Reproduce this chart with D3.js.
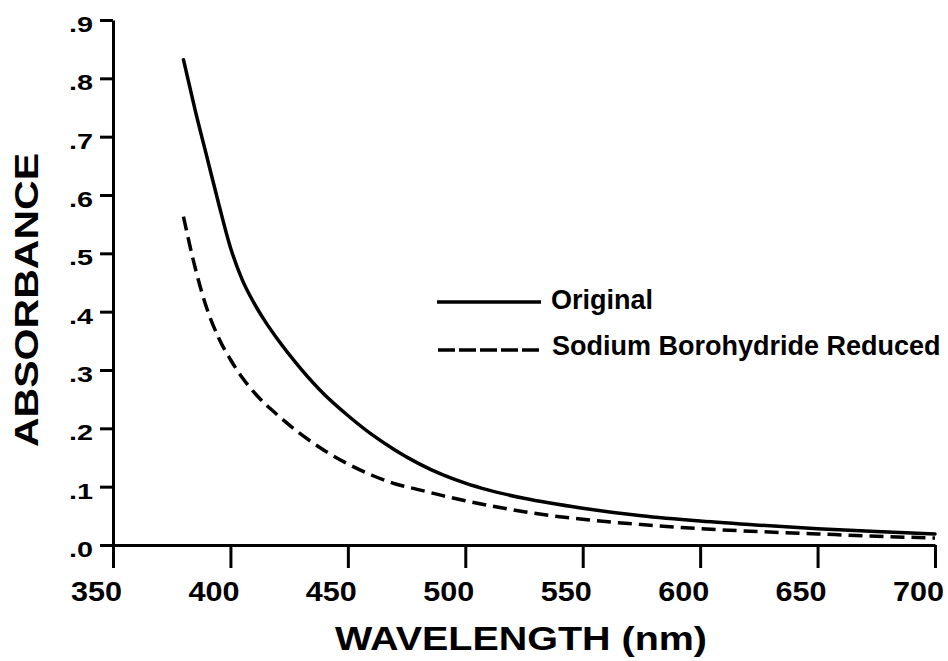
<!DOCTYPE html>
<html>
<head>
<meta charset="utf-8">
<script src="https://cdn.jsdelivr.net/npm/d3@7"></script>
<style>
  html, body { margin: 0; padding: 0; background: #fff; }
  svg { display: block; }
  text { font-family: "Liberation Sans", Arial, Helvetica, sans-serif; font-weight: bold; fill: #000; }
</style>
</head>
<body>
<svg id="chart" width="948" height="661"></svg>
<script>
// ---- data ----
const originalWavelength = [380, 385, 390, 395, 400, 405, 410, 415, 420, 430, 440, 450, 460, 470, 480, 490, 500, 510, 525, 550, 575, 600, 625, 650, 675, 700];
const originalAbsorbance = [0.832, 0.745, 0.665, 0.585, 0.51, 0.455, 0.415, 0.382, 0.353, 0.302, 0.258, 0.222, 0.19, 0.163, 0.14, 0.121, 0.106, 0.094, 0.08, 0.063, 0.05, 0.041, 0.034, 0.028, 0.023, 0.019];
const reducedWavelength = [380, 385, 390, 395, 400, 405, 410, 420, 430, 440, 450, 460, 470, 480, 490, 500, 525, 550, 575, 600, 625, 650, 675, 700];
const reducedAbsorbance = [0.563, 0.475, 0.405, 0.355, 0.318, 0.287, 0.262, 0.223, 0.19, 0.162, 0.139, 0.12, 0.105, 0.095, 0.085, 0.076, 0.057, 0.044, 0.035, 0.028, 0.023, 0.019, 0.015, 0.012];
const xTickValues = [350, 400, 450, 500, 550, 600, 650, 700];
const xTickLabels = ["350", "400", "450", "500", "550", "600", "650", "700"];
const yTickValues = [0, 0.1, 0.2, 0.3, 0.4, 0.5, 0.6, 0.7, 0.8, 0.9];
const yTickLabels = [".0", ".1", ".2", ".3", ".4", ".5", ".6", ".7", ".8", ".9"];
const seriesNames = ["Original", "Sodium Borohydride Reduced"];
const xTitle = "WAVELENGTH (nm)";
const yTitle = "ABSORBANCE";

// ---- layout ----
const svg = d3.select("#chart");
const x = d3.scaleLinear().domain([350, 700]).range([113, 935]);
const y = d3.scaleLinear().domain([0, 0.9]).range([545, 20]);

// axes
const xAxis = d3.axisBottom(x)
  .tickValues(xTickValues)
  .tickFormat((d, i) => xTickLabels[i])
  .tickSizeInner(23).tickSizeOuter(0).tickPadding(13);
const gx = svg.append("g").attr("transform", `translate(0,${y(0)})`).call(xAxis);
gx.select(".domain").attr("stroke-width", 3).attr("stroke", "#000");
gx.selectAll(".tick line").attr("stroke-width", 3).attr("stroke", "#000");
gx.selectAll(".tick text")
  .style("font-size", "28px")
  .attr("dx", -17)
  .attr("textLength", 51).attr("lengthAdjust", "spacingAndGlyphs")
  .attr("fill", "#000");

const yAxis = d3.axisLeft(y)
  .tickValues(yTickValues)
  .tickFormat((d, i) => yTickLabels[i])
  .tickSizeInner(13).tickSizeOuter(0).tickPadding(7);
const gy = svg.append("g").attr("transform", `translate(${x(350)},0)`).call(yAxis);
gy.select(".domain").attr("stroke-width", 3).attr("stroke", "#000");
gy.selectAll(".tick line").attr("stroke-width", 3).attr("stroke", "#000");
gy.selectAll(".tick text")
  .style("font-size", "22px")
  .attr("dy", "0.52em")
  .attr("textLength", 24).attr("lengthAdjust", "spacingAndGlyphs")
  .attr("fill", "#000");

// curves
const line = d3.line()
  .x(d => x(d[0]))
  .y(d => y(d[1]))
  .curve(d3.curveMonotoneX);

const originalData = originalWavelength.map((w, i) => [w, originalAbsorbance[i]]);
const reducedData = reducedWavelength.map((w, i) => [w, reducedAbsorbance[i]]);

svg.append("path").datum(originalData)
  .attr("d", line)
  .attr("fill", "none").attr("stroke", "#000")
  .attr("stroke-width", 3.5).attr("stroke-linecap", "round");

svg.append("path").datum(reducedData)
  .attr("d", line)
  .attr("fill", "none").attr("stroke", "#000")
  .attr("stroke-width", 3.5)
  .attr("stroke-dasharray", "14,7");

// legend
const legend = svg.append("g");
legend.append("line")
  .attr("x1", 437).attr("x2", 541).attr("y1", 302).attr("y2", 302)
  .attr("stroke", "#000").attr("stroke-width", 3.5);
legend.append("text").attr("x", 551).attr("y", 309)
  .style("font-size", "27px").text(seriesNames[0]);
legend.append("line")
  .attr("x1", 438).attr("x2", 541).attr("y1", 350).attr("y2", 350)
  .attr("stroke", "#000").attr("stroke-width", 3.5)
  .attr("stroke-dasharray", "17,4");
legend.append("text").attr("x", 552).attr("y", 355)
  .style("font-size", "27px").text(seriesNames[1]);

// axis titles
svg.append("text")
  .attr("x", 521).attr("y", 650)
  .attr("text-anchor", "middle")
  .style("font-size", "34px")
  .attr("textLength", 372).attr("lengthAdjust", "spacingAndGlyphs")
  .text(xTitle);

svg.append("text")
  .attr("transform", "translate(38,300) rotate(-90)")
  .attr("text-anchor", "middle")
  .style("font-size", "34px")
  .attr("textLength", 294).attr("lengthAdjust", "spacingAndGlyphs")
  .text(yTitle);
</script>
</body>
</html>
